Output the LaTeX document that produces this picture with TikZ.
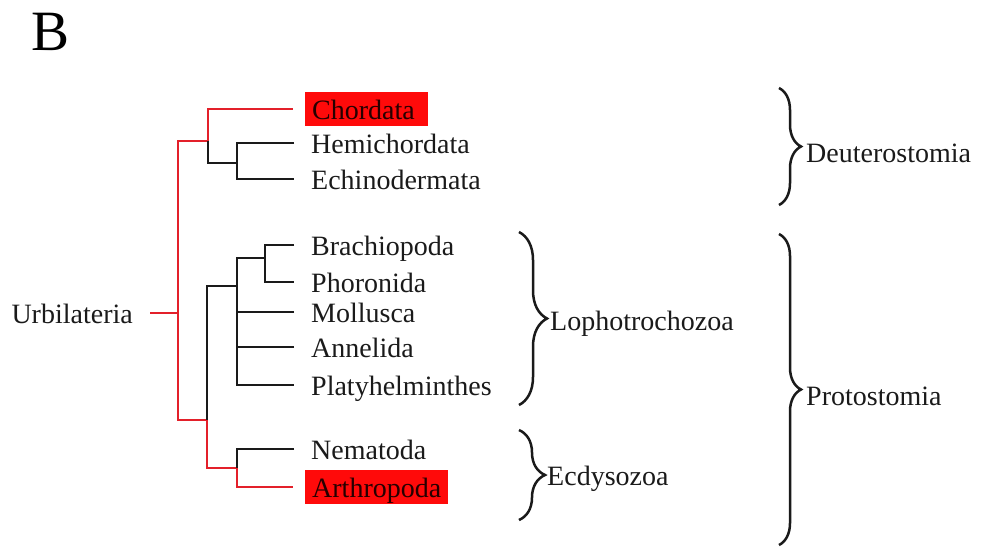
\documentclass[tikz,border=0pt]{standalone}
\usepackage{fontspec}
\setmainfont{Liberation Serif}
\usetikzlibrary{positioning,decorations.pathreplacing,calc}
\definecolor{cRed}{HTML}{E3202A}
\definecolor{cBox}{HTML}{FF0A0A}
\definecolor{cInk}{HTML}{1A1A1A}
\tikzset{
  taxon/.style={anchor=west,inner xsep=5pt,inner ysep=1pt,text height=26pt,text depth=6pt,font=\fontsize{28}{32}\selectfont,text=cInk},
  hl/.style={taxon,inner xsep=7pt,fill=cBox,text=black!85!red},
  grp/.style={anchor=west,inner xsep=1pt,font=\fontsize{28}{32}\selectfont,text=cInk},
  blkline/.style={line width=2.2pt,draw=cInk},
  redline/.style={line width=2.2pt,draw=cRed},
  brc/.style={decorate,decoration={brace,amplitude=#1},line width=2.5pt,draw=cInk},
}

\begin{document}
\begin{tikzpicture}[x=1pt,y=-1pt]
  \useasboundingbox (0,0) rectangle (981,547);
  \node[anchor=base west,font=\fontsize{57}{60}\selectfont,inner sep=0pt] (panel) at (31,50) {B};
  % taxa
  \node[hl,text width=109pt,align=left] (chor) at (305,109) {Chordata};
  \node[taxon] (hemi) at (306,143) {Hemichordata};
  \node[taxon] (echi) at (306,179) {Echinodermata};
  \node[taxon] (brac) at (306,245) {Brachiopoda};
  \node[taxon] (phor) at (306,282) {Phoronida};
  \node[taxon] (moll) at (306,312) {Mollusca};
  \node[taxon] (anne) at (306,347) {Annelida};
  \node[taxon] (plat) at (306,385) {Platyhelminthes};
  \node[taxon] (nema) at (306,449) {Nematoda};
  \node[hl] (arth) at (305,487) {Arthropoda};
  \node[taxon,anchor=east,inner xsep=4pt] (urb) at (137,313) {Urbilateria};
  % internal nodes
  \coordinate (root) at (178,313);
  \coordinate (nDeu) at (208,141);
  \coordinate (nHE) at (237,163);
  \coordinate (nPro) at (207,420);
  \coordinate (nLop) at (237,286);
  \coordinate (nBP) at (265,258);
  \coordinate (nEcd) at (237,468);
  % red path Urbilateria -> Chordata / Arthropoda
  \draw[redline] ([xshift=13pt]urb.east) -- (root);
  \draw[redline] (nDeu) -| (root) |- (nPro);
  \draw[redline] (nDeu) |- ([xshift=-12pt]chor.west);
  \draw[redline] (nPro) |- (nEcd);
  \draw[redline] (nEcd) |- ([xshift=-12pt]arth.west);
  % black branches
  \draw[blkline] (nDeu) |- (nHE);
  \draw[blkline] ([xshift=-12pt]hemi.west) -| (nHE) |- ([xshift=-12pt]echi.west);
  \draw[blkline] (nPro) |- (nLop);
  \draw[blkline] (nBP) -| (nLop) |- ([xshift=-12pt]plat.west);
  \draw[blkline] ([xshift=-12pt]brac.west) -| (nBP) |- ([xshift=-12pt]phor.west);
  \draw[blkline] ([xshift=-12pt]moll.west) -- (moll.west -| nLop);
  \draw[blkline] ([xshift=-12pt]anne.west) -- (anne.west -| nLop);
  \draw[blkline] ([xshift=-12pt]nema.west) -| (nEcd);
  % groups
  \draw[brc=22pt] (779,88) -- (779,205);
  \node[grp] (deut) at (805,153) {Deuterostomia};
  \draw[brc=22pt] (779,234) -- (779,545);
  \node[grp] (prot) at (805,396) {Protostomia};
  \draw[brc=28pt] (519,232) -- (519,405);
  \node[grp] (loph) at (549,324) {Lophotrochozoa};
  \draw[brc=26pt] (519,430) -- (519,520);
  \node[grp] (ecdy) at (546,479) {Ecdysozoa};
\end{tikzpicture}
\end{document}
